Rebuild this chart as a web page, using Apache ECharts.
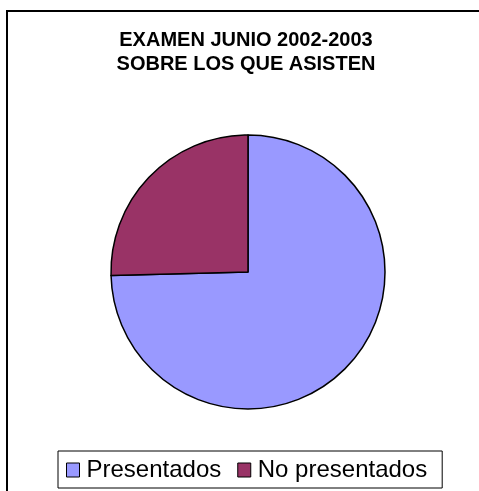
<!DOCTYPE html>
<html>
<head>
<meta charset="utf-8">
<script src="https://cdn.jsdelivr.net/npm/echarts@6/dist/echarts.min.js"></script>
<style>
  html, body { margin: 0; padding: 0; background: #fff; }
  #chart { width: 479px; height: 491px; }
</style>
</head>
<body>
<div id="chart"></div>
<script>
var categories = ['Presentados', 'No presentados']
var values = [74.6, 25.4]
var colors = ['#9999FF', '#993366']

var chart = echarts.init(document.getElementById('chart'))

chart.setOption({
  animation: false,
  title: {
    text: 'EXAMEN JUNIO 2002-2003\nSOBRE LOS QUE ASISTEN',
    left: 246,
    textAlign: 'center',
    top: 28,
    padding: 0,
    textStyle: {
      fontFamily: 'Liberation Sans',
      fontWeight: 'bold',
      fontSize: 20,
      lineHeight: 24,
      color: '#000'
    }
  },
  // outer chart frame, runs off the right and bottom edges
  graphic: [{
    type: 'rect',
    shape: { x: 7, y: 11, width: 520, height: 520 },
    style: { fill: 'none', stroke: '#000', lineWidth: 2 },
    silent: true
  }],
  legend: {
    data: categories,
    left: 58,
    top: 451,
    padding: [7, 15, 6, 8],
    borderColor: '#000',
    borderWidth: 1,
    itemWidth: 13,
    itemHeight: 14,
    itemGap: 16,
    icon: 'rect',
    selectedMode: false,
    itemStyle: { borderColor: '#000', borderWidth: 1 },
    textStyle: {
      fontFamily: 'Liberation Sans',
      fontSize: 24,
      lineHeight: 24,
      color: '#000',
      padding: [0, 0, 0, 2]
    }
  },
  series: [{
    type: 'pie',
    center: [248, 272],
    radius: 137,
    startAngle: 90,
    clockwise: true,
    label: { show: false },
    labelLine: { show: false },
    silent: true,
    itemStyle: { borderColor: '#000', borderWidth: 1.5 },
    data: categories.map(function (name, i) {
      return { name: name, value: values[i], itemStyle: { color: colors[i] } }
    })
  }]
})
</script>
</body>
</html>
